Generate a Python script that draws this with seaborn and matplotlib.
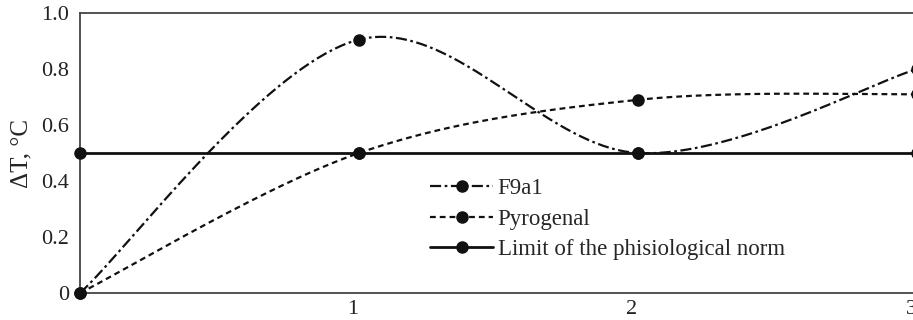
import numpy as np
import pandas as pd
import matplotlib
matplotlib.use("Agg")
import matplotlib.pyplot as plt
import matplotlib.transforms as mtransforms
from matplotlib.lines import Line2D
import seaborn as sns

# -------------------------
# DATA
# -------------------------
x_points = [0, 1, 2, 3]
f9a1 = [0.0, 0.905, 0.5, 0.8]
pyrogenal = [0.0, 0.5, 0.69, 0.71]
norm_limit = [0.5, 0.5, 0.5, 0.5]
series_names = ["F9a1", "Pyrogenal", "Limit of the phisiological norm"]
y_ticks = [0, 0.2, 0.4, 0.6, 0.8, 1.0]
y_tick_labels = ["0", "0.2", "0.4", "0.6", "0.8", "1.0"]
x_ticks = [1, 2, 3]


def smooth_line(xs, ys, n=80):
    """Excel-like smoothed line: cubic bezier through the points."""
    P = np.column_stack([xs, ys]).astype(float)
    out = []
    for i in range(len(P) - 1):
        p_prev = P[i - 1] if i > 0 else P[i]
        p_next = P[i + 2] if i + 2 < len(P) else P[i + 1]
        c1 = P[i] + (P[i + 1] - p_prev) / 6.0
        c2 = P[i + 1] - (p_next - P[i]) / 6.0
        t = np.linspace(0, 1, n)[:, None]
        seg = ((1 - t) ** 3) * P[i] + 3 * ((1 - t) ** 2) * t * c1 \
            + 3 * (1 - t) * t ** 2 * c2 + t ** 3 * P[i + 1]
        out.append(seg if i == 0 else seg[1:])
    out = np.vstack(out)
    return pd.DataFrame({"x": out[:, 0], "y": out[:, 1]})


# -------------------------
# STYLE
# -------------------------
sns.set_style("ticks")
plt.rcParams["font.family"] = ["Liberation Serif", "DejaVu Serif"]
plt.rcParams["font.size"] = 16

W, H = 913, 320
fig = plt.figure(figsize=(W / 100, H / 100), dpi=100)
ax = fig.add_axes([80 / W, 27 / H, (917 - 80) / W, (293 - 13) / H])

styles = [
    dict(linestyle=(0, (5, 1.6, 1.2, 1.6)), lw=1.6),
    dict(linestyle=(0, (2.6, 1.8)), lw=1.6),
    dict(linestyle="-", lw=2.0),
]
all_series = [f9a1, pyrogenal, norm_limit]

for vals, st in zip(all_series, styles):
    curve = smooth_line(x_points, vals)
    sns.lineplot(data=curve, x="x", y="y", ax=ax, color="#111111",
                 sort=False, estimator=None, clip_on=False, **st)
    ax.plot(x_points, vals, "o", color="#111111", ms=8, clip_on=False, zorder=5)

ax.set_xlim(0, 3)
ax.set_ylim(0, 1.0)
ax.set_xticks(x_ticks)
ax.set_xticklabels([str(v) for v in x_ticks])
ax.set_yticks(y_ticks)
ax.set_yticklabels(y_tick_labels)
ax.tick_params(length=0, labelsize=16, colors="#222222")
ax.tick_params(axis="y", pad=8)
ax.tick_params(axis="x", pad=5)
# tick labels sit a little left of the data positions in the reference
shift = mtransforms.ScaledTranslation(-6 / 100, 0, fig.dpi_scale_trans)
for lab in ax.get_xticklabels():
    lab.set_transform(lab.get_transform() + shift)

ax.set_xlabel("")
ax.set_ylabel("\u0394T, \u00b0C", fontsize=18)
ax.yaxis.set_label_coords(-48 / 837, 0.5)

for side in ["left", "bottom", "top"]:
    ax.spines[side].set_color("#444444")
    ax.spines[side].set_linewidth(1.3)
ax.spines["right"].set_visible(False)

handles = [
    Line2D([], [], color="#111111", marker="o", ms=8, **st) for st in styles
]
ax.legend(handles, series_names, loc="upper left",
          bbox_to_anchor=(430 / W, 1 - 178 / H), bbox_transform=fig.transFigure,
          frameon=False, fontsize=16.5, handlelength=2.75, handletextpad=0.2,
          labelspacing=0.42, borderpad=0, borderaxespad=0, numpoints=1)

fig.savefig("out.png", dpi=100)
